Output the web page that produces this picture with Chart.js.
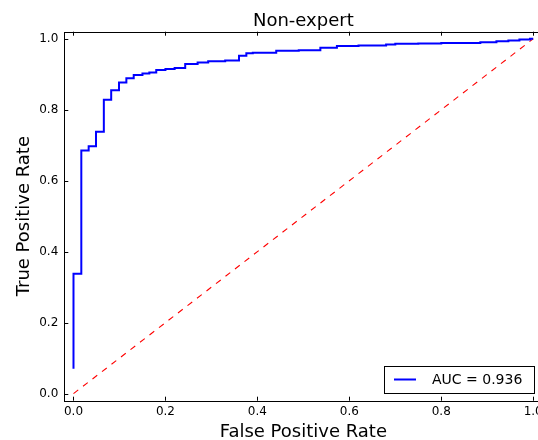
<!DOCTYPE html>
<html>
<head>
<meta charset="utf-8">
<script src="https://cdn.jsdelivr.net/npm/chart.js@4.4.1/dist/chart.umd.min.js"></script>
<style>
  html, body { margin: 0; padding: 0; background: #ffffff; }
  #wrap { width: 538px; height: 440px; overflow: hidden; position: relative; }
  canvas { display: block; }
</style>
</head>
<body>
<div id="wrap"><canvas id="c" width="550" height="440"></canvas></div>
<script>
// ---- Data ----
const chartTitle = "Non-expert";
const xAxisTitle = "False Positive Rate";
const yAxisTitle = "True Positive Rate";
const rocLabel = "AUC = 0.936";

// ROC curve corners (fpr, tpr), drawn as a step line
const fpr = [0, 0, 0.017, 0.033, 0.049, 0.066, 0.082, 0.099, 0.115, 0.131, 0.15, 0.165, 0.18, 0.2, 0.22, 0.243, 0.27, 0.293, 0.33, 0.36, 0.376, 0.39, 0.441, 0.49, 0.537, 0.573, 0.62, 0.68, 0.70, 0.75, 0.80, 0.885, 0.92, 0.946, 0.97, 0.993, 1.0];
const tpr = [0.07, 0.338, 0.685, 0.697, 0.738, 0.828, 0.855, 0.877, 0.889, 0.898, 0.902, 0.905, 0.912, 0.915, 0.918, 0.929, 0.933, 0.937, 0.939, 0.952, 0.959, 0.961, 0.966, 0.968, 0.975, 0.980, 0.981, 0.984, 0.986, 0.987, 0.988, 0.990, 0.993, 0.995, 0.998, 1.0, 1.0];

// Chance diagonal
const chanceX = [0, 1];
const chanceY = [0, 1];

// Axis ticks and limits
const xTicks = [0.0, 0.2, 0.4, 0.6, 0.8, 1.0];
const yTicks = [0.0, 0.2, 0.4, 0.6, 0.8, 1.0];
const xLimits = [-0.02, 1.02];
const yLimits = [-0.02, 1.02];

const FONT = "'DejaVu Sans', 'Liberation Sans', sans-serif";

const frame = {
  id: 'frame',
  afterDraw(chart) {
    const ctx = chart.ctx;
    const a = chart.chartArea;
    const xs = chart.scales.x, ys = chart.scales.y;
    ctx.save();
    // spines
    ctx.strokeStyle = '#000';
    ctx.lineWidth = 1;
    ctx.strokeRect(Math.round(a.left) + 0.5, Math.round(a.top) + 0.5,
                   Math.round(a.right - a.left), Math.round(a.bottom - a.top));
    // inward ticks on all four sides
    const L = 4;
    ctx.beginPath();
    xTicks.forEach(v => {
      const px = Math.round(xs.getPixelForValue(v)) + 0.5;
      ctx.moveTo(px, a.bottom); ctx.lineTo(px, a.bottom - L);
      ctx.moveTo(px, a.top); ctx.lineTo(px, a.top + L);
    });
    yTicks.forEach(v => {
      const py = Math.round(ys.getPixelForValue(v)) + 0.5;
      ctx.moveTo(a.left, py); ctx.lineTo(a.left + L, py);
      ctx.moveTo(a.right, py); ctx.lineTo(a.right - L, py);
    });
    ctx.stroke();

    // titles
    ctx.fillStyle = '#000';
    ctx.font = '18px ' + FONT;
    ctx.textAlign = 'center';
    ctx.textBaseline = 'alphabetic';
    const cx = (a.left + a.right) / 2;
    ctx.fillText(chartTitle, cx, 25.7);
    ctx.fillText(xAxisTitle, cx, 436.7);
    ctx.save();
    ctx.translate(29, (a.top + a.bottom) / 2);
    ctx.rotate(-Math.PI / 2);
    ctx.fillText(yAxisTitle, 0, 0);
    ctx.restore();

    // legend (lower right)
    const lx = 384.5, ly = 366.5, lw = 150, lh = 27;
    ctx.fillStyle = '#fff';
    ctx.fillRect(lx, ly, lw, lh);
    ctx.strokeStyle = '#000';
    ctx.lineWidth = 1;
    ctx.strokeRect(lx, ly, lw, lh);
    const ds = chart.data.datasets[0];
    ctx.strokeStyle = ds.borderColor;
    ctx.lineWidth = ds.borderWidth;
    ctx.beginPath();
    ctx.moveTo(394, 379.5); ctx.lineTo(416, 379.5);
    ctx.stroke();
    ctx.fillStyle = '#000';
    ctx.font = '14px ' + FONT;
    ctx.textAlign = 'left';
    ctx.textBaseline = 'middle';
    ctx.fillText(ds.label, 432, 380);
    ctx.restore();
  }
};

new Chart(document.getElementById('c'), {
  type: 'line',
  data: {
    datasets: [
      {
        label: rocLabel,
        data: fpr.map((x, i) => ({ x: x, y: tpr[i] })),
        borderColor: '#0000ff',
        borderWidth: 2,
        stepped: 'before',
        pointRadius: 0,
        fill: false
      },
      {
        label: 'chance',
        data: chanceX.map((x, i) => ({ x: x, y: chanceY[i] })),
        borderColor: '#ff0000',
        borderWidth: 1.1,
        borderDash: [6, 6],
        pointRadius: 0,
        fill: false
      }
    ]
  },
  options: {
    responsive: false,
    animation: false,
    events: [],
    layout: { padding: { top: 31.7, right: 7.6, left: 0, bottom: 0 } },
    plugins: { legend: { display: false }, tooltip: { enabled: false }, title: { display: false } },
    scales: {
      x: {
        type: 'linear',
        min: xLimits[0], max: xLimits[1],
        grid: { display: false, drawTicks: false },
        border: { display: false },
        afterBuildTicks: s => { s.ticks = xTicks.map(v => ({ value: v })); },
        afterFit: s => { s.height = 39.3; },
        ticks: {
          color: '#000', padding: 4, maxRotation: 0,
          font: { family: FONT, size: 12 },
          callback: v => Number(v).toFixed(1)
        }
      },
      y: {
        type: 'linear',
        min: yLimits[0], max: yLimits[1],
        grid: { display: false, drawTicks: false },
        border: { display: false },
        afterBuildTicks: s => { s.ticks = yTicks.map(v => ({ value: v })); },
        afterFit: s => { s.width = 64.3; },
        ticks: {
          color: '#000', padding: 6,
          font: { family: FONT, size: 12 },
          callback: v => Number(v).toFixed(1)
        }
      }
    }
  },
  plugins: [frame]
});
</script>
</body>
</html>
